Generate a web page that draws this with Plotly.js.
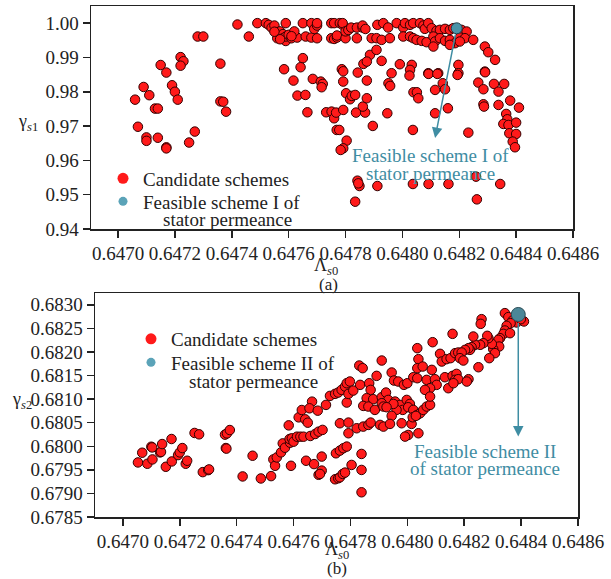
<!DOCTYPE html>
<html><head><meta charset="utf-8">
<script src="https://cdn.plot.ly/plotly-3.0.1.min.js"></script>
<style>html,body{margin:0;padding:0;background:#fff}</style>
</head><body><div id="chart" style="width:611px;height:579px"></div>
<script>
// ---------- data ----------
const xTickVals = [0.6470,0.6472,0.6474,0.6476,0.6478,0.6480,0.6482,0.6484,0.6486];
const xTickText = ['0.6470','0.6472','0.6474','0.6476','0.6478','0.6480','0.6482','0.6484','0.6486'];
const y1TickVals = [0.94,0.95,0.96,0.97,0.98,0.99,1.00];
const y1TickText = ['0.94','0.95','0.96','0.97','0.98','0.99','1.00'];
const y2TickVals = [0.6785,0.6790,0.6795,0.6800,0.6805,0.6810,0.6815,0.6820,0.6825,0.6830];
const y2TickText = ['0.6785','0.6790','0.6795','0.6800','0.6805','0.6810','0.6815','0.6820','0.6825','0.6830'];

// (a) candidate schemes: Lambda_s0 and gamma_s1
const candAx = [
0.64706,0.64707,0.64709,0.64711,0.64710,0.64710,0.64713,0.64714,0.64714,0.64715,0.64717,0.64717,0.64717,0.64719,0.64720,0.64721,0.64722,0.64723,0.64722,0.64725,0.64727,0.64728,0.64730,0.64736,0.64736,0.64737,0.64738,
0.64742,0.64746,0.64749,0.64752,0.64753,0.64754,0.64755,0.64756,0.64757,0.64756,0.64758,0.64758,0.64759,0.64759,0.64760,0.64761,0.64762,0.64763,0.64762,0.64759,0.64765,0.64766,0.64768,0.64768,0.64769,0.64770,0.64770,0.64770,0.64765,0.64775,0.64776,0.64778,0.64779,0.64779,0.64775,0.64776,0.64777,0.64777,0.64780,0.64780,0.64781,0.64782,0.64784,0.64784,0.64786,0.64786,0.64787,0.64755,0.64757,0.64761,
0.647912,0.647933,0.647950,0.647980,0.648003,0.648009,0.648027,0.648038,0.648062,0.648074,0.648079,0.648091,0.648103,0.648120,0.648132,0.648150,0.648167,0.648179,0.648208,0.648226,
0.647892,0.647909,0.647927,0.647956,0.648003,0.648027,0.648038,0.648050,0.648068,0.648085,0.648109,0.648115,0.648132,0.648150,0.648167,0.648185,0.648202,0.648220,0.648249,0.648109,0.648167,0.648202,
0.648290,0.648302,0.648326,0.648197,0.647991,0.648033,0.648027,0.647927,0.647886,0.647909,0.647962,0.648091,0.648126,0.648197,0.648290,
0.647584,0.647642,0.647617,0.647685,0.647631,0.647659,0.647713,0.647720,0.647716,0.647666,0.647732,0.647751,0.647760,0.647767,0.647792,0.647787,0.647792,0.647792,0.647802,0.647816,0.647822,0.647834,0.647769,0.647778,0.647804,0.647792,0.647783,0.647843,0.647875,0.647863,0.647875,0.647837,0.647869,0.647861,0.647875,0.647896,0.647947,0.647951,0.647957,0.647842,0.647849,0.647845,0.647912,0.647834,
0.648025,0.648092,0.648123,0.648194,0.648142,0.648115,0.648150,0.648039,0.648051,0.648056,0.648160,0.648115,0.648037,0.648232,0.648291,0.648267,0.648285,0.648322,0.648358,0.648338,0.648285,0.648287,0.648338,0.648379,0.648410,0.648365,0.648369,0.648355,0.648373,0.648400,0.648376,0.648400,0.648388,0.648396,0.648037,0.648092,0.648162,0.648259,0.648344,0.648262
];
const candAy = [
0.9777,0.9698,0.9814,0.9790,0.9667,0.9657,0.9751,0.9751,0.9666,0.9878,0.9856,0.9638,0.9635,0.9819,0.9800,0.9777,0.9901,0.9889,0.9876,0.9652,0.9684,0.9961,0.9961,0.9882,0.9772,0.9771,0.9742,
0.9996,0.9961,1.0000,1.0000,0.9995,0.9987,0.9993,0.9974,0.9976,0.9956,0.9968,0.9956,0.9948,0.9961,0.9966,0.9956,0.9964,0.9958,0.9976,1.0000,1.0000,0.9961,1.0000,0.9958,0.9983,0.9993,1.0000,0.9956,0.9898,1.0000,1.0000,1.0000,0.9995,1.0000,0.9956,0.9954,0.9958,0.9964,0.9956,0.9976,0.9980,0.9987,0.9956,0.9987,0.9987,0.9993,0.9983,0.9975,0.9953,0.9962,
0.99951,1.0000,0.99873,1.0000,0.99873,1.0000,0.99951,1.0000,1.0000,0.99931,0.99834,1.0000,0.99853,0.99776,0.99805,0.99834,0.99805,0.99853,0.99805,0.99756,
0.99562,0.99562,0.99513,0.99562,0.99610,0.99610,0.99562,0.99513,0.99484,0.99445,0.99610,0.99465,0.99562,0.99484,0.99513,0.99416,0.99581,0.99562,0.99513,0.99318,0.99367,0.99465,
0.99318,0.99153,0.98930,0.98784,0.98803,0.98784,0.98638,0.98900,0.99075,0.99221,0.98541,0.98541,0.98541,0.98541,0.98589,
0.98657,0.98715,0.98326,0.98375,0.97889,0.97908,0.98297,0.98229,0.98132,0.97402,0.97402,0.97422,0.97227,0.97393,0.97470,0.98657,0.98598,0.98297,0.97957,0.97782,0.97879,0.97908,0.96887,0.96887,0.96576,0.96352,0.96304,0.98559,0.98326,0.98812,0.98880,0.97393,0.97393,0.97568,0.97811,0.97004,0.97373,0.98248,0.98171,0.95409,0.95253,0.95331,0.95253,0.94796,
0.98472,0.98521,0.98521,0.98491,0.98248,0.98054,0.98073,0.97986,0.97986,0.97811,0.97519,0.97373,0.96887,0.96809,0.98569,0.98268,0.98073,0.98229,0.98229,0.98005,0.97636,0.97568,0.97616,0.97743,0.97538,0.97354,0.97198,0.97062,0.97033,0.97101,0.96790,0.96770,0.96547,0.96382,0.95312,0.95312,0.95312,0.95526,0.95312,0.94864
];
const feasAx = [0.648191];
const feasAy = [0.9985];

// (b) candidate schemes: Lambda_s0 and gamma_s2
const candBx = [
0.647053,0.647068,0.647086,0.647104,0.647100,0.647103,0.647131,0.647134,0.647138,0.647151,0.647171,0.647172,0.647194,0.647200,0.647209,0.647221,0.647226,0.647252,0.647268,0.647281,0.647300,0.647303,0.647359,0.647366,0.647362,0.647364,0.647376,0.647421,0.647456,0.647485,0.647521,0.647529,0.647535,0.647541,0.647556,0.647562,0.647570,0.647583,0.647588,0.647586,0.647594,0.647600,0.647591,0.647612,0.647624,0.647635,0.647618,0.647629,0.647641,0.647650,0.647665,0.647656,0.647644,0.647672,0.647659,0.647676,0.647688,0.647685,0.647688,
0.647702,0.647714,0.647728,0.647746,0.647757,0.647769,0.647781,0.647787,0.647787,0.647793,0.647763,0.647793,0.647793,0.647749,0.647763,0.647775,0.647787,0.647699,0.647699,0.647693,0.647746,0.647757,0.647763,0.647773,0.647781,
0.648159,0.648089,0.648035,0.647910,0.648115,0.648121,0.648138,0.648152,0.648168,0.648179,0.648039,0.648035,0.648054,0.648086,0.647831,0.647843,0.647892,0.647945,0.647953,0.647968,0.647988,0.648000,0.648021,0.648035,0.648068,0.648097,0.648103,0.648132,0.648159,0.648173,0.648168,0.648179,0.648144,0.648080,0.648062,
0.647798,0.647810,0.647834,0.647866,0.647871,0.647857,0.647880,0.647910,0.647925,0.647933,0.647957,0.647974,0.647984,0.647998,0.648009,0.647962,0.647951,0.648003,0.647845,0.647863,0.647886,0.647910,0.647916,0.647927,0.647945,0.648021,0.648035,0.648045,0.648056,0.648068,0.648080,0.648080,
0.647822,0.647845,0.647863,0.647871,0.647904,0.647916,0.647939,0.647980,0.648015,0.648019,0.648030,0.648039,0.648003,0.647992,0.647839,
0.648343,0.648261,0.648258,0.648355,0.648370,0.648384,0.648410,0.648399,0.648363,0.648349,0.648343,0.648338,0.648361,0.648326,0.648320,0.648323,0.648302,0.648308,0.648288,0.648297,0.648285,0.648281,0.648267,0.648256,0.648238,0.648226,0.648220,0.648215,0.648203,0.648191,0.648232,0.648250,0.648215,0.648209,0.648185,0.648197,0.648162,
0.647839,0.647804,0.647839
];
const candBy = [
0.679657,0.679863,0.679629,0.679721,0.679990,0.679975,0.679870,0.679880,0.680047,0.679565,0.680154,0.679678,0.679813,0.679870,0.679962,0.679629,0.679693,0.680282,0.680253,0.679452,0.679494,0.679509,0.680246,0.680273,0.679962,0.679950,0.680344,0.679360,0.679799,0.679317,0.679367,0.679721,0.679586,0.679763,0.679870,0.680061,0.679969,0.680443,0.680075,0.680154,0.680168,0.680097,0.679586,0.680203,0.680203,0.680203,0.680613,0.680769,0.680571,0.680500,0.680946,0.680805,0.679693,0.679622,0.680218,0.680260,0.680310,0.680755,0.679395,
0.680347,0.680877,0.681068,0.681111,0.681139,0.681196,0.681267,0.681337,0.680927,0.681111,0.680488,0.680502,0.680276,0.679851,0.679908,0.679958,0.679993,0.679781,0.679484,0.679413,0.679300,0.679321,0.679342,0.679413,0.679441,
0.682384,0.682207,0.682080,0.681818,0.681960,0.681797,0.681847,0.681868,0.681974,0.681988,0.681847,0.681656,0.681691,0.681620,0.681712,0.681656,0.681493,0.681564,0.681394,0.681373,0.681302,0.681337,0.681464,0.681443,0.681408,0.681422,0.681302,0.681464,0.681493,0.681535,0.681408,0.681422,0.681231,0.681231,0.681196,
0.681373,0.681181,0.681302,0.681337,0.681196,0.681019,0.680998,0.681040,0.681139,0.680983,0.680948,0.680877,0.680771,0.680983,0.680898,0.680771,0.680898,0.680828,0.680856,0.680842,0.680771,0.680913,0.680842,0.680828,0.680644,0.680771,0.680665,0.680700,0.680771,0.680842,0.680877,0.681054,
0.680382,0.680417,0.680453,0.680502,0.680453,0.680417,0.680474,0.680488,0.680474,0.680615,0.680644,0.680276,0.680240,0.680205,0.679837,
0.682823,0.682695,0.682596,0.682738,0.682667,0.682625,0.682646,0.682695,0.682610,0.682554,0.682455,0.682384,0.682398,0.682292,0.682257,0.682115,0.682059,0.681974,0.681868,0.682172,0.682292,0.682342,0.682186,0.682151,0.682151,0.682101,0.682044,0.682080,0.682044,0.681988,0.682327,0.681676,0.681422,0.681372,0.681868,0.681818,0.681337,
0.679498,0.679604,0.679024
];
const feasBx = [0.648390];
const feasBy = [0.682795];

const legendNames = ['Candidate schemes', 'Feasible scheme I of', 'Feasible scheme II of'];

// ---------- style ----------
const W = 611, H = 579;
const FONT = 'Liberation Serif, "Times New Roman", Times, serif';
const INK = '#222222';
const RED = '#ff1a1a';
const TEAL = '#3f8da3';
const FS = 19;
const px = v => v / W;           // pixel -> paper x
const py = v => 1 - v / H;       // pixel -> paper y

function axisStyle(extra) {
  return Object.assign({
    showgrid:false, zeroline:false, showline:true, mirror:true,
    linecolor:INK, linewidth:1.5, ticks:'outside', ticklen:7, tickwidth:1.5, tickcolor:INK,
    tickfont:{family:FONT, size:FS, color:INK}
  }, extra);
}

const redMarker = {color:RED, size:9.5, line:{color:'#330000', width:1}};

const traces = [
  {type:'scatter', mode:'markers', x:candAx, y:candAy, xaxis:'x', yaxis:'y', marker:redMarker, showlegend:false, hoverinfo:'skip'},
  {type:'scatter', mode:'markers', x:feasAx, y:feasAy, xaxis:'x', yaxis:'y', marker:{color:'#4a93a8', size:11, line:{color:'#1f3f4a', width:1}}, showlegend:false},
  {type:'scatter', mode:'markers', x:[null], y:[null], xaxis:'x', yaxis:'y', name:legendNames[0], legend:'legend', marker:{color:RED, size:11}},
  {type:'scatter', mode:'markers', x:[null], y:[null], xaxis:'x', yaxis:'y', name:legendNames[1], legend:'legend2', marker:{color:'#5ba3b8', size:9}},

  {type:'scatter', mode:'markers', x:candBx, y:candBy, xaxis:'x2', yaxis:'y2', marker:redMarker, showlegend:false, hoverinfo:'skip'},
  {type:'scatter', mode:'markers', x:feasBx, y:feasBy, xaxis:'x2', yaxis:'y2', marker:{color:'#4b8798', size:14, line:{color:'#2a4c56', width:1}}, showlegend:false},
  {type:'scatter', mode:'markers', x:[null], y:[null], xaxis:'x2', yaxis:'y2', name:legendNames[0], legend:'legend3', marker:{color:RED, size:11}},
  {type:'scatter', mode:'markers', x:[null], y:[null], xaxis:'x2', yaxis:'y2', name:legendNames[2], legend:'legend4', marker:{color:'#5ba3b8', size:9}}
];

const txt = (text, x, y, opts) => Object.assign({
  text, x:px(x), y:py(y), xref:'paper', yref:'paper', showarrow:false,
  xanchor:'center', yanchor:'middle', font:{family:FONT, size:FS, color:INK}
}, opts || {});
const tealFont = {family:FONT, size:FS, color:TEAL};

const annotations = [
  txt('Λ<sub><i>s</i>0</sub>', 326, 266, {font:{family:FONT, size:18, color:INK}}),
  txt('(a)', 328, 284, {font:{family:FONT, size:17, color:INK}}),
  txt('γ<sub><i>s</i>1</sub>', 28, 123, {font:{family:FONT, size:18, color:INK}}),
  txt('Λ<sub><i>s</i>0</sub>', 337, 550, {font:{family:FONT, size:18, color:INK}}),
  txt('(b)', 337, 568, {font:{family:FONT, size:17, color:INK}}),
  txt('γ<sub><i>s</i>2</sub>', 22, 400, {font:{family:FONT, size:18, color:INK}}),
  txt('stator permeance', 227, 219),
  txt('stator permeance', 253, 381),
  // arrow (a)
  {x:0.648115, y:0.96654, xref:'x', yref:'y', ax:feasAx[0], ay:feasAy[0], axref:'x', ayref:'y',
   text:'', showarrow:true, arrowhead:2, arrowsize:1.4, arrowwidth:1.5, arrowcolor:TEAL, standoff:0, startstandoff:5},
  txt('Feasible scheme I of', 430, 155, {font:tealFont}),
  txt('stator permeance', 430, 173, {font:tealFont}),
  // arrow (b)
  {x:feasBx[0], y:0.680205, xref:'x2', yref:'y2', ax:feasBx[0], ay:feasBy[0], axref:'x2', ayref:'y2',
   text:'', showarrow:true, arrowhead:2, arrowsize:1.4, arrowwidth:1.5, arrowcolor:TEAL, standoff:0, startstandoff:7},
  txt('Feasible scheme II', 485, 451, {font:tealFont}),
  txt('of stator permeance', 485, 468, {font:tealFont})
];

const legendBase = (x, y) => ({x:px(x), y:py(y), xanchor:'left', yanchor:'top', bgcolor:'rgba(0,0,0,0)',
  font:{family:FONT, size:FS, color:INK}, tracegroupgap:0, itemclick:false});

const layout = {
  width:W, height:H, margin:{l:0, r:0, t:0, b:0},
  paper_bgcolor:'#ffffff', plot_bgcolor:'#ffffff',
  font:{family:FONT, size:FS, color:INK},
  xaxis: axisStyle({domain:[px(91), px(573)], range:[0.646905, 0.6486], anchor:'y', tickvals:xTickVals, ticktext:xTickText}),
  yaxis: axisStyle({domain:[py(229), py(6)], range:[0.94, 1.005], anchor:'x', tickvals:y1TickVals, ticktext:y1TickText}),
  xaxis2: axisStyle({domain:[px(95), px(578)], range:[0.646902, 0.6486], anchor:'y2', tickvals:xTickVals, ticktext:xTickText}),
  yaxis2: axisStyle({domain:[py(517), py(293)], range:[0.6785, 0.68325], anchor:'x2', tickvals:y2TickVals, ticktext:y2TickText}),
  legend: legendBase(103, 159.5),
  legend2: legendBase(103, 182.5),
  legend3: legendBase(131, 320),
  legend4: legendBase(131, 343.5),
  annotations
};

Plotly.newPlot('chart', traces, layout, {displayModeBar:false, staticPlot:true});
</script>
</body></html>
